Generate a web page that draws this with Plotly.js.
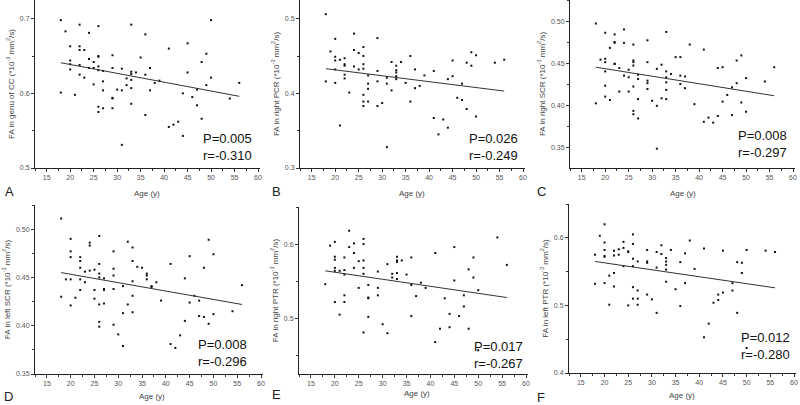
<!DOCTYPE html>
<html>
<head>
<meta charset="utf-8">
<script src="https://cdn.plot.ly/plotly-3.0.1.min.js"></script>
<style>
  html, body { margin: 0; padding: 0; background: #fff; }
  #chart { width: 800px; height: 405px; }
</style>
</head>
<body>
<div id="chart"></div>
<script>
// --- Data (age in years, FA values) ---
const ageA = [18,18,19,20,20,20,20,21,22,22,22,22,22,23,23,24,24,24,25,25,25,26,26,26,26,26,26,26,27,27,27,27,29,29,29,29,29,30,31,31,31,32,32,33,33,33,33,33,33,34,35,36,36,36,37,37,38,39,41,41,42,43,44,44,45,45,46,47,47,48,48,49,49,50,50,54,56];
const faA = [0.698,0.601,0.683,0.663,0.644,0.639,0.632,0.598,0.692,0.663,0.658,0.638,0.625,0.658,0.621,0.681,0.646,0.634,0.642,0.634,0.612,0.690,0.650,0.649,0.636,0.631,0.582,0.575,0.630,0.616,0.604,0.580,0.651,0.634,0.594,0.593,0.580,0.605,0.633,0.604,0.531,0.620,0.611,0.692,0.629,0.626,0.618,0.607,0.586,0.628,0.648,0.679,0.625,0.571,0.634,0.604,0.614,0.617,0.660,0.555,0.558,0.562,0.600,0.543,0.667,0.628,0.595,0.605,0.584,0.642,0.566,0.653,0.611,0.698,0.621,0.593,0.614];

const ageB = [18,18,19,20,20,20,20,20,21,21,22,22,22,22,22,23,24,24,24,25,25,26,26,26,26,26,26,26,27,27,27,27,29,29,29,29,30,31,31,31,32,32,33,33,33,33,33,34,35,36,36,37,37,38,39,41,41,42,43,44,44,45,45,46,47,47,48,48,49,49,50,50,54,56];
const faB = [0.506,0.416,0.456,0.473,0.449,0.444,0.432,0.414,0.445,0.357,0.447,0.439,0.437,0.425,0.420,0.401,0.480,0.458,0.436,0.454,0.432,0.462,0.450,0.439,0.433,0.398,0.389,0.383,0.424,0.413,0.406,0.389,0.474,0.430,0.416,0.383,0.387,0.421,0.413,0.328,0.442,0.404,0.437,0.431,0.428,0.423,0.419,0.442,0.414,0.450,0.389,0.432,0.407,0.410,0.424,0.430,0.367,0.345,0.365,0.419,0.354,0.444,0.423,0.394,0.413,0.391,0.441,0.379,0.455,0.437,0.451,0.369,0.441,0.445];

const ageC = [18,18,19,20,20,20,20,20,20,21,21,22,22,22,22,22,23,23,24,24,24,25,25,25,26,26,26,26,26,26,26,27,27,27,27,29,29,29,29,29,30,31,31,31,32,32,33,33,33,33,33,33,34,35,36,36,36,37,37,38,39,41,41,42,43,44,44,45,45,46,47,47,48,48,49,49,50,50,54,56];
const faC = [0.498,0.403,0.455,0.487,0.456,0.452,0.441,0.424,0.411,0.469,0.407,0.485,0.476,0.475,0.450,0.450,0.445,0.417,0.491,0.475,0.436,0.443,0.434,0.417,0.473,0.454,0.452,0.448,0.423,0.394,0.390,0.437,0.432,0.408,0.385,0.478,0.452,0.430,0.427,0.420,0.406,0.444,0.400,0.349,0.449,0.409,0.488,0.441,0.434,0.428,0.419,0.408,0.438,0.458,0.458,0.436,0.426,0.435,0.421,0.473,0.402,0.467,0.381,0.386,0.380,0.445,0.388,0.446,0.405,0.413,0.422,0.389,0.454,0.427,0.460,0.404,0.433,0.393,0.429,0.446];

const ageD = [18,18,19,20,20,20,20,20,21,22,22,22,22,22,23,23,24,24,24,25,25,25,26,26,26,26,26,26,26,27,27,27,27,29,29,29,29,29,30,31,31,31,32,32,33,33,33,33,33,34,35,36,36,36,37,37,38,39,41,41,42,43,44,44,45,45,46,47,47,48,48,49,49,50,50,54,56];
const faD = [0.511,0.430,0.448,0.490,0.477,0.471,0.448,0.421,0.429,0.471,0.467,0.460,0.448,0.437,0.456,0.445,0.486,0.483,0.457,0.458,0.437,0.428,0.493,0.464,0.454,0.450,0.422,0.404,0.399,0.449,0.438,0.437,0.423,0.477,0.459,0.452,0.438,0.401,0.391,0.441,0.413,0.379,0.487,0.422,0.481,0.467,0.446,0.431,0.414,0.461,0.460,0.454,0.452,0.448,0.441,0.440,0.445,0.426,0.464,0.381,0.377,0.390,0.449,0.405,0.472,0.424,0.431,0.426,0.410,0.460,0.409,0.489,0.402,0.474,0.412,0.415,0.442];

const ageE = [18,19,20,20,20,20,20,20,21,21,22,22,22,22,22,23,23,24,24,24,25,25,26,26,26,26,26,26,27,27,27,27,29,29,29,30,31,31,32,32,33,33,33,33,33,34,35,36,36,36,37,38,39,41,41,42,43,44,44,45,45,46,47,47,48,48,49,49,50,50,54,56];
const faE = [0.546,0.598,0.603,0.583,0.579,0.568,0.564,0.522,0.564,0.505,0.582,0.565,0.559,0.531,0.522,0.618,0.596,0.601,0.588,0.568,0.577,0.541,0.607,0.600,0.578,0.568,0.560,0.481,0.545,0.528,0.527,0.502,0.563,0.541,0.531,0.492,0.573,0.480,0.560,0.555,0.583,0.578,0.576,0.561,0.553,0.578,0.559,0.582,0.545,0.503,0.530,0.548,0.541,0.588,0.468,0.486,0.527,0.506,0.488,0.596,0.551,0.503,0.531,0.516,0.566,0.486,0.582,0.555,0.538,0.457,0.609,0.572];

const ageF = [18,18,19,20,20,20,20,20,20,21,21,22,22,22,22,23,23,24,24,24,25,25,25,26,26,26,26,26,26,27,27,27,27,29,29,29,29,30,31,31,31,32,32,33,33,33,33,33,34,35,36,36,37,37,38,39,41,41,42,43,44,44,45,45,47,47,48,48,49,49,50,50,54,56];
const faF = [0.575,0.532,0.603,0.620,0.593,0.582,0.573,0.572,0.533,0.544,0.501,0.581,0.574,0.548,0.528,0.583,0.575,0.594,0.585,0.558,0.580,0.579,0.500,0.605,0.591,0.569,0.558,0.527,0.510,0.565,0.522,0.510,0.501,0.582,0.565,0.563,0.516,0.509,0.579,0.556,0.489,0.589,0.576,0.570,0.565,0.560,0.553,0.535,0.582,0.524,0.564,0.499,0.577,0.533,0.596,0.554,0.584,0.453,0.473,0.504,0.516,0.508,0.581,0.519,0.533,0.522,0.564,0.489,0.563,0.548,0.582,0.437,0.581,0.579];

// regression line end points (age 18 and 56)
const fitAge = [18, 56];
const fitA = [0.641, 0.596];
const fitB = [0.433, 0.403];
const fitC = [0.446, 0.412];
const fitD = [0.455, 0.422];
const fitE = [0.564, 0.528];
const fitF = [0.565, 0.526];

const panelLetters = ["A", "B", "C", "D", "E", "F"];
const yTitles = [
  "FA in genu of CC (*10<sup>-3</sup> mm<sup>2</sup>/s)",
  "FA in right PCR (*10<sup>-3</sup> mm<sup>2</sup>/s)",
  "FA in right SCR (*10<sup>-3</sup> mm<sup>2</sup>/s)",
  "FA in left SCR (*10<sup>-3</sup> mm<sup>2</sup>/s)",
  "FA in right PTR (*10<sup>-3</sup> mm<sup>2</sup>/s)",
  "FA in left PTR (*10<sup>-3</sup> mm<sup>2</sup>/s)",
];
const pValues = ["0.005", "0.026", "0.008", "0.008", "0.017", "0.012"];
const rValues = ["-0.310", "-0.249", "-0.297", "-0.296", "-0.267", "-0.280"];
const yRanges = [[0.5, 0.725], [0.3, 0.525], [0.326, 0.526], [0.35, 0.525], [0.425, 0.65], [0.4, 0.65]];
const yTicks = [[0.5, 0.6, 0.7], [0.3, 0.4, 0.5], [0.35, 0.4, 0.45, 0.5], [0.35, 0.4, 0.45, 0.5], [0.5, 0.6], [0.4, 0.5, 0.6]];
const yTickText = [["0.5", "0.6", "0.7"], ["0.3", "0.4", "0.5"], ["0.35", "0.40", "0.45", "0.50"],
  ["0.35", "0.40", "0.45", "0.50"], ["0.5", "0.6"], ["0.4", "0.5", "0.6"]];
const yMinor = [0.05, 0.05, 0.025, 0.025, 0.05, 0.05];
const xTicks = [15, 20, 25, 30, 35, 40, 45, 50, 55, 60];

const ages = [ageA, ageB, ageC, ageD, ageE, ageF];
const fas = [faA, faB, faC, faD, faE, faF];
const fits = [fitA, fitB, fitC, fitD, fitE, fitF];

// --- Layout geometry in pixels ---
const W = 800, H = 405;
const px = (x) => x / W;
const py = (y) => 1 - y / H;

// left axis px, right (age 60) px, top px, bottom px
const boxes = [
  [35, 258, 0, 168],
  [300, 523, 0, 168],
  [570, 793, 0, 168],
  [35, 261, 205, 374],
  [299, 526, 207, 374],
  [569, 794, 204, 373],
];
const letterPos = [[3, 191], [270, 191], [535, 191], [2, 396], [270, 394], [535, 397]];
const agePos = [[147, 193], [412, 193], [683, 193], [152, 396], [417, 393], [682, 395]];
const statPos = [[254, 147], [520, 147], [789, 144], [249, 353], [525, 355], [792, 346]];

const FONT = "Liberation Sans, Arial, sans-serif";
const traces = [];
const layout = {
  width: W,
  height: H,
  margin: { l: 0, r: 0, t: 0, b: 0 },
  paper_bgcolor: "#fff",
  plot_bgcolor: "#fff",
  showlegend: false,
  font: { family: FONT, color: "#333" },
  annotations: [],
};

boxes.forEach(([x0, x1, y0, y1], i) => {
  const n = i === 0 ? "" : String(i + 1);
  const xa = "x" + n, ya = "y" + n;

  traces.push({
    x: ages[i],
    y: fas[i],
    xaxis: xa,
    yaxis: ya,
    type: "scatter",
    mode: "markers",
    marker: { symbol: "square", size: 2, color: "#111" },
    hoverinfo: "x+y",
  });
  traces.push({
    x: fitAge,
    y: fits[i],
    xaxis: xa,
    yaxis: ya,
    type: "scatter",
    mode: "lines",
    line: { color: "#333", width: 1 },
    hoverinfo: "skip",
  });

  // age 12.5 sits on the y axis line, 60 at x1
  const perYear = (x1 - x0) / 47.5;
  layout["xaxis" + n] = {
    domain: [px(x0), px(x1 + 0.4 * perYear)],
    range: [12.5, 60.4],
    anchor: ya,
    tickvals: xTicks,
    ticks: "outside",
    ticklen: 3,
    tickcolor: "#333",
    minor: { dtick: 2.5, tick0: 12.5, ticks: "outside", ticklen: 2, tickcolor: "#333" },
    showline: true,
    linecolor: "#222",
    linewidth: 1,
    showgrid: false,
    zeroline: false,
    tickfont: { size: 7, color: "#555" },
  };
  layout["yaxis" + n] = {
    domain: [py(y1), py(y0)],
    range: yRanges[i],
    anchor: xa,
    tickvals: yTicks[i],
    ticktext: yTickText[i],
    ticks: "outside",
    ticklen: 3,
    tickcolor: "#333",
    minor: { dtick: yMinor[i], ticks: "outside", ticklen: 2, tickcolor: "#333" },
    showline: true,
    linecolor: "#222",
    linewidth: 1,
    showgrid: false,
    zeroline: false,
    tickfont: { size: 7, color: "#555" },
    title: { text: yTitles[i], font: { size: 8, color: "#444" }, standoff: 4 },
  };

  layout.annotations.push({
    xref: "paper", yref: "paper",
    x: px(letterPos[i][0]), y: py(letterPos[i][1]),
    xanchor: "left", yanchor: "middle",
    text: panelLetters[i], showarrow: false,
    font: { size: 13, color: "#222" },
  });
  layout.annotations.push({
    xref: "paper", yref: "paper",
    x: px(agePos[i][0]), y: py(agePos[i][1]),
    xanchor: "center", yanchor: "middle",
    text: "Age (y)", showarrow: false,
    font: { size: 8, color: "#444" },
  });
  layout.annotations.push({
    xref: "paper", yref: "paper",
    x: px(statPos[i][0]), y: py(statPos[i][1]),
    xanchor: "right", yanchor: "middle", align: "left",
    text: "P=" + pValues[i] + "<br>r=" + rValues[i], showarrow: false,
    font: { size: 13, color: "#111" },
  });
});

Plotly.newPlot("chart", traces, layout, { staticPlot: true });
</script>
</body>
</html>
